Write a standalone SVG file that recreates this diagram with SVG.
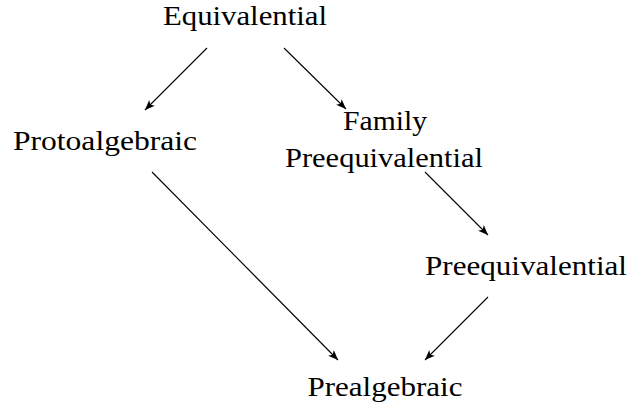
<svg xmlns="http://www.w3.org/2000/svg" width="629" height="408" viewBox="0 0 629 408">
<style>
text{font-family:"Liberation Serif","Times New Roman",Times,serif;font-size:28px;fill:#000;text-anchor:middle}
.c line{stroke:#000;stroke-width:1.1;fill:none}
</style>
<defs>
<marker id="ah" viewBox="0 0 10 8" refX="10" refY="4" markerWidth="10" markerHeight="8" markerUnits="userSpaceOnUse" orient="auto">
<path d="M0,0 L10,4 L0,8 L2.5,4 Z" fill="#000"/>
</marker>
</defs>
<rect width="629" height="408" fill="#fff"/>
<g id="equivalential"><text x="245" y="25" textLength="164" lengthAdjust="spacingAndGlyphs">Equivalential</text></g>
<g id="protoalgebraic"><text x="105" y="150" textLength="184" lengthAdjust="spacingAndGlyphs">Protoalgebraic</text></g>
<g id="family"><text x="385" y="130" textLength="84" lengthAdjust="spacingAndGlyphs">Family</text><text x="384" y="167" textLength="198" lengthAdjust="spacingAndGlyphs">Preequivalential</text></g>
<g id="preequivalential"><text x="526" y="275" textLength="202" lengthAdjust="spacingAndGlyphs">Preequivalential</text></g>
<g id="prealgebraic"><text x="385" y="396" textLength="155" lengthAdjust="spacingAndGlyphs">Prealgebraic</text></g>
<g class="c" id="connectors">
<line x1="207" y1="48" x2="145" y2="110" marker-end="url(#ah)"/>
<line x1="284" y1="48" x2="346" y2="109" marker-end="url(#ah)"/>
<line x1="152" y1="172" x2="338" y2="360" marker-end="url(#ah)"/>
<line x1="425" y1="172" x2="488" y2="235" marker-end="url(#ah)"/>
<line x1="488" y1="297" x2="425" y2="360" marker-end="url(#ah)"/>
</g>
</svg>
